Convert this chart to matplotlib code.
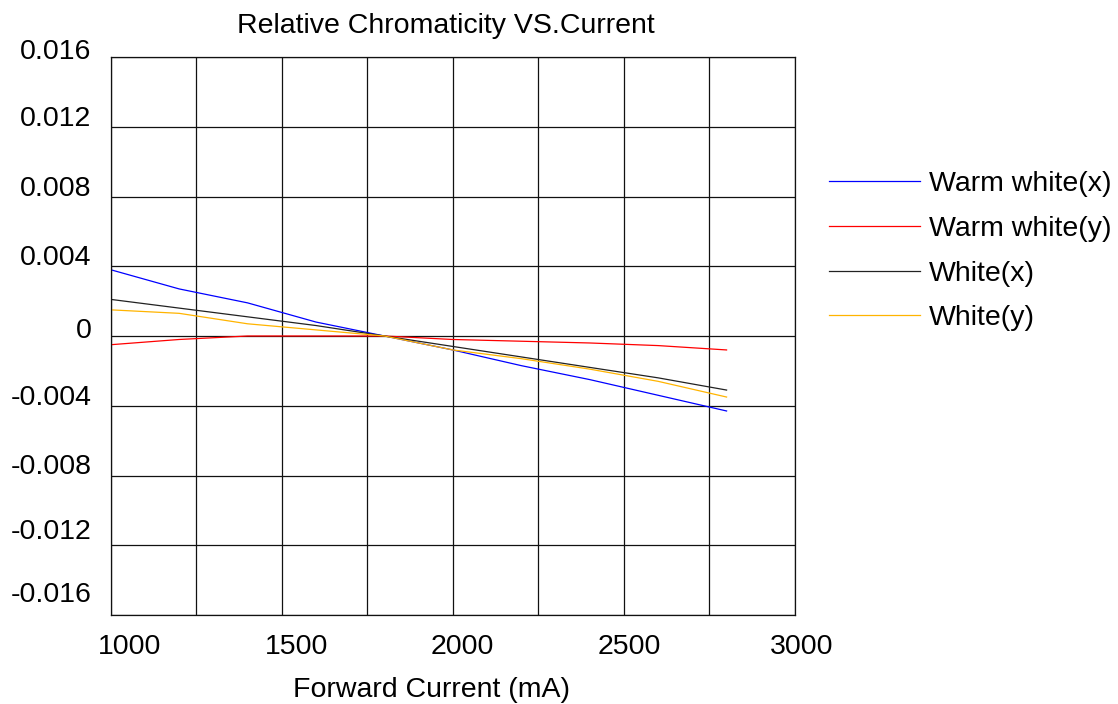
import matplotlib
matplotlib.use("Agg")
import matplotlib.pyplot as plt
from matplotlib.ticker import MultipleLocator
from matplotlib.transforms import ScaledTranslation

plt.rcParams['font.family'] = ['Liberation Sans', 'DejaVu Sans']

current = [1000, 1200, 1400, 1600, 1800, 2000, 2200, 2400, 2600, 2800]
warm_x = [0.0038, 0.0027, 0.0019, 0.0008, 0.0, -0.0008, -0.0017, -0.0025, -0.0034, -0.0043]
warm_y = [-0.0005, -0.0002, 0.0, 0.0, 0.0, -0.0002, -0.0003, -0.0004, -0.00055, -0.0008]
white_x = [0.0021, 0.0016, 0.0011, 0.0006, 0.0, -0.0006, -0.0012, -0.0018, -0.0024, -0.0031]
white_y = [0.0015, 0.0013, 0.0007, 0.00035, 0.0, -0.0008, -0.0013, -0.0019, -0.0026, -0.0035]

series_names = ["Warm white(x)", "Warm white(y)", "White(x)", "White(y)"]
series_vals = [warm_x, warm_y, white_x, white_y]
series_colors = ["#0000ff", "#ff0000", "#222222", "#ffb400"]

x_ticks = [1000, 1500, 2000, 2500, 3000]
y_ticks = [-0.016, -0.012, -0.008, -0.004, 0, 0.004, 0.008, 0.012, 0.016]
y_labels = ["-0.016", "-0.012", "-0.008", "-0.004", "0", "0.004", "0.008", "0.012", "0.016"]

FS = 20.5
fig = plt.figure(figsize=(11.18, 7.04), dpi=100)
ax = fig.add_axes([110.7 / 1118, 1 - 615 / 704, (795 - 110.7) / 1118, (615 - 57) / 704])

for name, vals, col in zip(series_names, series_vals, series_colors):
    ax.plot(current, vals, color=col, lw=0.9, label=name)

ax.set_xlim(1000, 3000)
ax.set_ylim(-0.016, 0.016)
ax.set_xticks(x_ticks)
ax.xaxis.set_minor_locator(MultipleLocator(250))
ax.set_yticks(y_ticks)
ax.set_yticklabels(y_labels)
ax.grid(True, which='both', color='#111111', lw=0.9)
ax.set_axisbelow(True)
for s in ax.spines.values():
    s.set_color('#111111')
    s.set_linewidth(0.9)
ax.tick_params(axis='both', which='both', length=0, labelsize=FS)
ax.tick_params(axis='y', pad=14)
ax.tick_params(axis='x', pad=14)

# y label vertical offsets (px upward) as in reference
y_off = [23, 16, 11, 10.5, 8.5, 11, 11, 11, 8]
for lab, off in zip(ax.get_yticklabels(), y_off):
    lab.set_transform(lab.get_transform() + ScaledTranslation(0, off / 100, fig.dpi_scale_trans))
x_off = [19, 15, 9, 5, 7]
for lab, off in zip(ax.get_xticklabels(), x_off):
    lab.set_transform(lab.get_transform() + ScaledTranslation(off / 100, 0, fig.dpi_scale_trans))

ax.set_title("Relative Chromaticity VS.Current", fontsize=FS, pad=17.5, x=0.49)
ax.set_xlabel("Forward Current (mA)", fontsize=FS)
ax.xaxis.set_label_coords((432 - 110.7) / 684.3, -0.111)

fig.legend(loc='upper left', bbox_to_anchor=(829 / 1118, 1 - 171 / 704),
           bbox_transform=fig.transFigure, frameon=False, fontsize=FS,
           handlelength=3.2, handletextpad=0.3, labelspacing=0.66,
           borderpad=0, borderaxespad=0)

fig.savefig("out.png", dpi=100)
